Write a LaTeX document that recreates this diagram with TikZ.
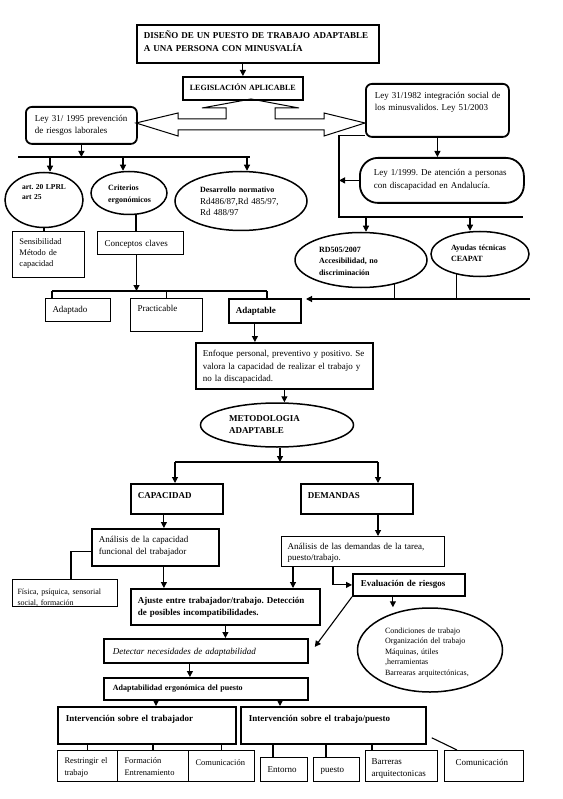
\documentclass[tikz,border=0pt]{standalone}
\usepackage{fontspec}
\setmainfont{Liberation Serif}
\usetikzlibrary{positioning,arrows.meta,shapes.geometric}
\newcommand\fnine{\fontsize{9}{12}\selectfont}
\newcommand\feight{\fontsize{8}{10.5}\selectfont}
\newcommand\tb[1]{\begin{tabular}[t]{@{}l@{}}#1\end{tabular}}
\frenchspacing

\begin{document}
\begin{tikzpicture}[x=1pt,y=-1pt,
  box/.style={draw,line width=1pt,anchor=north west,inner xsep=7pt,inner ysep=0pt,align=left,font=\fnine},
  bbox/.style={box,line width=1.8pt},
  rbox/.style={bbox,rounded corners=6pt},
  ell/.style={box,ellipse,anchor=center,inner sep=0pt,line width=1.5pt},
  tw/.style={text width=#1pt},
  hd/.style 2 args={text height=#1pt,text depth=#2pt},
  arr/.style={line width=1.1pt,-{Triangle[length=6pt,width=6pt]}},
  ln/.style={line width=1.1pt}]
\useasboundingbox (0,0) rectangle (562,799);

% top: title and legislation
\node[bbox,tw=228,hd={14}{24},font=\fontsize{9}{12.5}\selectfont\bfseries] (title) at (136,24) {\tb{DISEÑO DE UN PUESTO DE TRABAJO ADAPTABLE\\A UNA PERSONA CON MINUSVALÍA}};
\node[bbox,tw=106,hd={14}{9},font=\fontsize{8}{10}\selectfont\bfseries] (legis) at (182,76) {\tb{LEGISLACIÓN APLICABLE}};
\node[rbox,inner xsep=9pt,tw=93,hd={15}{22}] (ley95) at (25,106) {\tb{Ley 31/ 1995 prevención\\de riesgos laborales}};
\node[rbox,inner xsep=9pt,tw=125,hd={15}{38}] (ley82) at (365,83) {\tb{Ley 31/1982 integración social de\\los minusvalidos. Ley 51/2003}};
\node[bbox,rounded corners=18pt,inner xsep=14pt,tw=136,hd={18}{27},font=\fontsize{9}{13}\selectfont] (ley99) at (359,157) {\tb{Ley 1/1999. De atención a personas\\con discapacidad en Andalucía.}};

\draw[arr] (legis.north |- title.south) -- (legis.north);
% hollow double arrow
\draw[line width=1pt] (251,99) -- (299,108) -- (275,108) -- (275,119) -- (324,119) -- (324,113) -- (365,123)
  -- (324,136) -- (324,130) -- (178,130) -- (178,136) -- (136,123) -- (178,113) -- (178,119)
  -- (226,119) -- (226,108) -- (202,108) -- cycle;

% left branch
\node[ell,tw=44,hd={7}{27},minimum width=78pt,minimum height=55pt,font=\fontsize{7.5}{10}\selectfont\bfseries] (art) at (44,200) {\tb{art. 20 LPRL\\art 25}};
\node[ell,tw=42,hd={7}{11},minimum width=76pt,minimum height=43pt,font=\fontsize{8}{12}\selectfont\bfseries] (crit) at (129,193) {\tb{Criterios\\ergonómicos}};
\node[ell,tw=82,hd={7}{23},minimum width=132pt,minimum height=59pt,font=\fontsize{9}{11.5}\selectfont] (desa) at (241,201) {\tb{\textbf{\fontsize{8}{11.5}\selectfont Desarrollo normativo}\\Rd486/87,Rd 485/97,\\Rd 488/97}};
\node[box,tw=58,hd={13}{33},font=\fontsize{8.5}{11}\selectfont] (sens) at (12,231) {\tb{Sensibilidad\\Método de\\capacidad}};
\node[box,tw=72,hd={15}{8}] (concep) at (97,231) {\tb{Conceptos claves}};
\node[box,tw=51,hd={14}{9}] (adaptado) at (45,298) {\tb{Adaptado}};
\node[box,tw=58,hd={13}{20}] (practic) at (130,298) {\tb{Practicable}};
\node[bbox,tw=58,hd={15}{9},font=\fnine\bfseries] (adaptab) at (228,298) {\tb{Adaptable}};

\coordinate (b1l) at (18,157);
\coordinate (b1r) at (250,157);
\draw[arr] (ley95.south) -- (ley95.south |- b1l);
\draw[ln] (b1l) -- (b1r);
\foreach \n/\s in {art/6,crit/-6,desa/6}
  \draw[arr] ([xshift=\s pt]\n.north |- b1l) -- ([xshift=\s pt]\n.north);
\draw[ln] (art.south) -- (art.south |- sens.north);
\draw[ln] ([xshift=7pt]crit.south) -- ([xshift=7pt]crit.south |- concep.north);
\coordinate (b2l) at (52,291);
\coordinate (b2r) at (267,291);
\draw[arr] ([xshift=-4pt]concep.south) -- ([xshift=-4pt]concep.south |- b2l);
\draw[ln] (b2l) -- (b2r);
\draw[ln] (b2l) -- (b2l |- adaptado.north);
\draw[ln] (practic.north |- b2l) -- (practic.north);
\draw[ln] (b2r) -- (b2r |- adaptab.north);

% right branch
\node[ell,tw=84,hd={7}{23},minimum width=132pt,minimum height=55pt,font=\fontsize{8}{11.5}\selectfont\bfseries] (rd) at (361,260) {\tb{RD505/2007\\Accesibilidad, no\\discriminación}};
\node[ell,tw=58,hd={7}{13},minimum width=98pt,minimum height=45pt,font=\fontsize{8}{10.5}\selectfont\bfseries] (ay) at (480,254) {\tb{Ayudas técnicas\\CEAPAT}};

\coordinate (rbl) at (339,217);
\coordinate (rbr) at (523,217);
\draw[ln] ([yshift=2pt]ley82.south west) -| (rbl) -- (rbr);
\draw[arr] (ley82.south) -- (ley82.south |- ley99.north);
\draw[arr] (ley99.west) -- (ley99.west -| rbl);
\draw[arr] ([xshift=5pt]rd.north |- rbl) -- ([xshift=5pt]rd.north);
\draw[arr] ([xshift=-10pt]ay.north |- rbl) -- ([xshift=-10pt]ay.north);
\coordinate (lbr) at (530,299);
\coordinate (lbl) at (306,299);
\draw[arr] (lbr) -- (lbl);
\draw[ln] (rd.-36) -- (rd.-36 |- lbr);
\draw[ln] (ay.-139) -- (ay.-139 |- lbr);

% methodology
\node[bbox,tw=163,hd={14}{32},font=\fontsize{9}{12.5}\selectfont] (enfoque) at (195,342) {\tb{Enfoque personal, preventivo y positivo. Se\\valora la capacidad de realizar el trabajo y\\no la discapacidad.}};
\node[ell,tw=96,hd={7}{15},minimum width=153pt,minimum height=44pt,font=\fnine\bfseries] (metod) at (277,425) {\tb{METODOLOGIA\\ADAPTABLE}};
\node[bbox,tw=78,hd={15}{15},font=\fnine\bfseries] (capac) at (130,483) {\tb{CAPACIDAD}};
\node[bbox,tw=98,hd={15}{15},font=\fnine\bfseries] (demand) at (300,483) {\tb{DEMANDAS}};

\draw[arr] ([xshift=-10pt]adaptab.south) -- ([xshift=-10pt]adaptab.south |- enfoque.north);
\draw[arr] (enfoque.south) -- (enfoque.south |- metod.north);
\coordinate (b3l) at (175,462);
\coordinate (b3r) at (378,462);
\draw[arr] ([xshift=3pt]metod.south) -- ([xshift=3pt]metod.south |- b3l);
\draw[ln] (b3l) -- (b3r);
\draw[arr] (b3l) -- (b3l |- capac.north);
\draw[arr] (b3r) -- (b3r |- demand.north);

% capacity and demands
\node[bbox,tw=113,hd={14}{23}] (an1) at (91,528) {\tb{Análisis de la capacidad\\funcional del trabajador}};
\node[box,inner xsep=5pt,tw=95,hd={15}{12},font=\feight] (fis) at (12,579) {\tb{Física, psíquica, sensorial\\social, formación}};
\node[bbox,tw=175,hd={15}{21},font=\fnine\bfseries] (ajuste) at (130,588) {\tb{Ajuste entre trabajador/trabajo. Detección\\de posibles incompatibilidades.}};
\node[box,line width=1.3pt,inner xsep=6pt,tw=151,hd={13}{17},font=\fontsize{9}{11}\selectfont] (an2) at (281,536) {\tb{Análisis de las demandas  de la tarea,\\puesto/trabajo.}};
\node[bbox,inner xsep=8pt,tw=96,hd={13}{9},font=\fnine\bfseries] (eval) at (352,573) {\tb{Evaluación de riesgos}};
\node[ell,tw=90,hd={7}{41},minimum width=145pt,minimum height=84pt,font=\feight] (cond) at (430,650) {\tb{Condiciones de trabajo\\Organización del trabajo\\Máquinas, útiles\\,herramientas\\Barrearas arquitectónicas,}};

\draw[arr] ([xshift=-13pt]capac.south) -- ([xshift=-13pt]capac.south |- an1.north);
\draw[ln] ([yshift=-4pt]an1.west) -| ([xshift=6pt]fis.north);
\draw[arr] ([xshift=8.5pt]an1.south) -- ([xshift=8.5pt]an1.south |- ajuste.north);
\draw[arr] (b3r |- demand.south) -- (b3r |- an2.north);
\draw[arr] ([xshift=12pt]an2.south west) -- ([xshift=12pt]an2.south west |- ajuste.north);
\draw[arr] ([xshift=52pt]an2.south west) |- (eval.west);
\draw[arr] ([xshift=-16pt]eval.south) -- ([xshift=-16pt]eval.south |- cond.north);

% adaptation and interventions
\node[bbox,inner xsep=9pt,tw=186,hd={16}{8},font=\fnine\itshape] (detect) at (103,638) {\tb{Detectar necesidades de adaptabilidad}};
\node[bbox,inner xsep=9pt,tw=186,hd={13}{9},font=\fontsize{8}{11}\selectfont\bfseries] (adapt) at (103,677) {\tb{Adaptabilidad ergonómica del puesto}};
\node[bbox,inner xsep=8pt,tw=162,hd={15}{22},font=\fnine\bfseries] (intw) at (57,706) {\tb{Intervención sobre el trabajador}};
\node[bbox,inner xsep=8pt,tw=169,hd={15}{22},font=\fnine\bfseries] (intp) at (240,706) {\tb{Intervención sobre el trabajo/puesto}};
\node[box,tw=46,hd={13}{18},font=\fontsize{8.5}{12}\selectfont] (restr) at (57,750) {\tb{Restringir el\\trabajo}};
\node[box,tw=57,hd={13}{18},font=\fontsize{8.5}{12}\selectfont] (form) at (117,750) {\tb{Formación\\Entrenamiento}};
\node[box,tw=52,hd={15}{16},font=\fontsize{8.5}{12}\selectfont] (comw) at (188,750) {\tb{Comunicación}};
\node[box,tw=33,hd={15}{9}] (entorno) at (260,757) {\tb{Entorno}};
\node[box,tw=32,hd={15}{9}] (puesto) at (313,757) {\tb{puesto}};
\node[box,inner xsep=6pt,tw=60,hd={14}{17}] (barr) at (365,750) {\tb{Barreras\\arquitectonicas}};
\node[box,inner xsep=11pt,tw=57,hd={15}{16}] (comp) at (444,750) {\tb{Comunicación}};

\draw[arr] (eval.south west) -- ([xshift=6pt,yshift=4pt]detect.east);
\draw[arr] (ajuste.south) -- (ajuste.south |- detect.north);
\draw[arr] ([xshift=-16pt]detect.south) -- ([xshift=-16pt]detect.south |- adapt.north);
\draw[arr] ([xshift=53pt]adapt.south west) -- ([xshift=53pt]adapt.south west |- intw.north);
\draw[arr] ([xshift=177pt]adapt.south west) -- ([xshift=177pt]adapt.south west |- intp.north);
\foreach \n in {restr,form,comw}
  \draw[ln] (\n.north |- intw.south) -- (\n.north);
\foreach \n/\s in {entorno/13,puesto/13,barr/7}
  \draw[ln] ([xshift=\s pt]\n.north west |- intp.south) -- ([xshift=\s pt]\n.north west);
\draw[ln] ([xshift=5pt,yshift=7pt]intp.south east) -- ([xshift=13pt]comp.north west);
\end{tikzpicture}
\end{document}
